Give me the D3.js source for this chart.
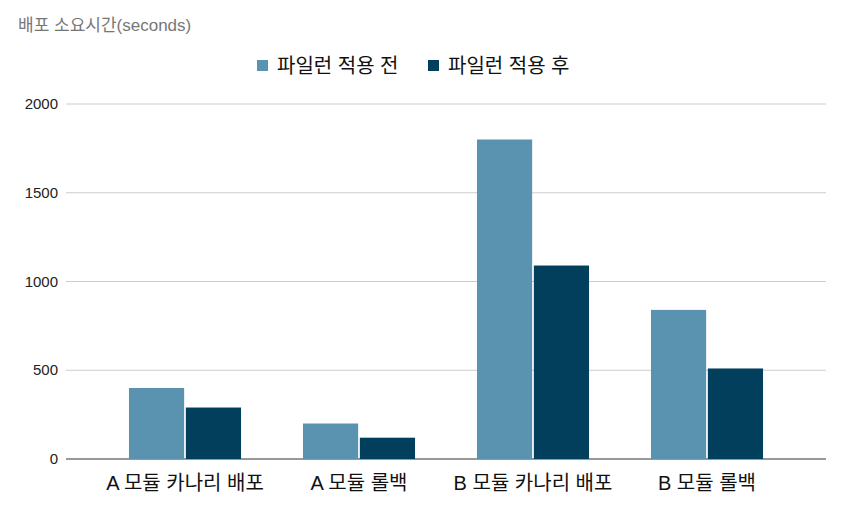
<!DOCTYPE html>
<html><head><meta charset="utf-8">
<script src="https://cdn.jsdelivr.net/npm/d3@7"></script>
<style>body{margin:0;background:#fff}text{font-family:"Liberation Sans","Noto Sans CJK KR",sans-serif}</style>
</head><body><div id="chart"></div>
<script>
const categories = ["A 모듈 카나리 배포", "A 모듈 롤백", "B 모듈 카나리 배포", "B 모듈 롤백"]
const seriesNames = ["파일런 적용 전", "파일런 적용 후"]
const before = [400, 200, 1800, 840]
const after = [290, 120, 1090, 510]
const yTicks = [0, 500, 1000, 1500, 2000]
const colors = ["#5a93b0", "#023f5c"]

let svg = d3.select("#chart").append("svg").attr("width", 844).attr("height", 509)
let m = {left: 66, right: 826, top: 104, bottom: 459}

let x = d3.scaleBand().domain(categories).range([98, 794]).paddingInner(0.356).paddingOuter(0.178)
let xs = d3.scaleBand().domain([0, 1]).range([0, x.bandwidth()]).paddingInner(0.03)
let y = d3.scaleLinear().domain([0, 2000]).range([m.bottom, m.top])

// grid
svg.selectAll(".grid").data(yTicks).enter().append("line")
    .attr("x1", m.left).attr("x2", m.right)
    .attr("y1", d => y(d)).attr("y2", d => y(d))
    .attr("stroke", d => d === 0 ? "#333" : "#ccc").attr("stroke-width", 1)

svg.selectAll(".ylab").data(yTicks).enter().append("text")
    .attr("x", 58).attr("y", d => y(d) + 5).attr("text-anchor", "end")
    .attr("font-size", 15).attr("fill", "#222").text(d => d)

let rows = categories.map((c, i) => [before[i], after[i]])
let g = svg.selectAll(".grp").data(rows).enter().append("g")
    .attr("transform", (d, i) => `translate(${x(categories[i])},0)`)
g.selectAll("rect").data(d => d).enter().append("rect")
    .attr("x", (d, j) => xs(j)).attr("width", xs.bandwidth())
    .attr("y", d => y(d)).attr("height", d => y(0) - y(d))
    .attr("fill", (d, j) => colors[j])

svg.selectAll(".xlab").data(categories).enter().append("text")
    .attr("x", d => x(d) + x.bandwidth() / 2).attr("y", 490).attr("text-anchor", "middle")
    .attr("font-size", 20).attr("fill", "#111").text(d => d)

svg.append("text").attr("x", 18).attr("y", 31).attr("font-size", 17).attr("fill", "#777").text("배포 소요시간(seconds)")

// legend
let lx = [257, 428]
seriesNames.forEach((s, i) => {
    svg.append("rect").attr("x", lx[i]).attr("y", 60).attr("width", 11).attr("height", 11).attr("fill", colors[i])
    svg.append("text").attr("x", lx[i] + 20).attr("y", 73).attr("font-size", 20).attr("fill", "#111").text(s)
})
</script></body></html>
